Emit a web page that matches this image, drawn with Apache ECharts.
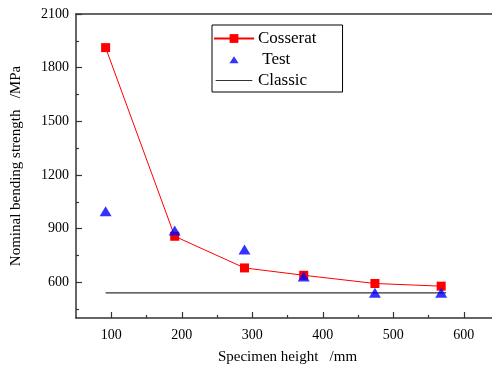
<!DOCTYPE html>
<html>
<head>
<meta charset="utf-8">
<script src="https://cdn.jsdelivr.net/npm/echarts@6/dist/echarts.min.js"></script>
<style>
html,body{margin:0;padding:0;background:#fff;overflow:hidden;}
#chart{width:492px;height:365px;}
</style>
</head>
<body>
<div id="chart"></div>
<script>
// Data
var heights = [92, 190, 289, 373, 474, 568];
var cosseratValues = [1912, 857, 680, 639, 593, 578];
var testValues = [997, 889, 783, 632, 541, 541];
var classicX = [92, 575];
var classicValue = 540;
var xTickLabels = [100, 200, 300, 400, 500, 600];
var xMinorTicks = [150, 250, 350, 450, 550];
var yTickLabels = [600, 900, 1200, 1500, 1800, 2100];
var yMinorTicks = [450, 750, 1050, 1350, 1650, 1950];

var FONT = '"Liberation Serif", "DejaVu Serif", serif';
var AX = '#333';

function pairs(xs, ys) { return xs.map(function (x, i) { return [x, ys[i]]; }); }
function plain(v) { return String(v); }

var TRI_ICON = 'path://M0,0 L0.01,0 L0,0.01 Z M15,10 L20,2.5 L25,10 Z M40,12 L39.99,12 L40,11.99 Z';
var LINE_ICON = 'path://M0,0 L0.01,0 L0,0.01 Z M0,5.5 L40,5.5 L40,6.6 L0,6.6 Z M40,12 L39.99,12 L40,11.99 Z';

var GRID = {left: 76, top: 14, width: 423, height: 304, outerBoundsMode: 'none', containLabel: false, show: false};

var chart = echarts.init(document.getElementById('chart'), null, {renderer: 'canvas'});
chart.setOption({
  animation: false,
  backgroundColor: '#fff',
  textStyle: {fontFamily: FONT},
  grid: [Object.assign({}, GRID), Object.assign({}, GRID)],
  legend: {
    orient: 'vertical', left: 212, top: 25,
    padding: [5, 26, 3, 1], itemGap: 4, itemWidth: 40, itemHeight: 11,
    borderColor: '#000', borderWidth: 1,
    textStyle: {fontFamily: FONT, fontSize: 17, color: '#000', padding: [0, 0, 0, -1]},
    data: [
      {name: 'Cosserat'},
      {name: 'Test', icon: TRI_ICON},
      {name: 'Classic', icon: LINE_ICON}
    ],
    formatter: function (n) { return n === 'Test' ? ' ' + n : n; }
  },
  xAxis: [{
    type: 'value', min: 50, max: 650, gridIndex: 0, position: 'bottom',
    name: 'Specimen height   /mm', nameLocation: 'middle', nameGap: 32,
    nameTextStyle: {fontFamily: FONT, fontSize: 15, color: '#000'},
    axisLine: {show: true, lineStyle: {color: AX, width: 1.5}},
    axisTick: {show: true, inside: true, length: 6, customValues: xTickLabels, lineStyle: {color: AX, width: 1.2}},
    axisLabel: {customValues: xTickLabels, formatter: plain, fontFamily: FONT, fontSize: 14, color: '#000', margin: 10},
    splitLine: {show: false}
  }, {
    type: 'value', min: 50, max: 650, gridIndex: 1, position: 'bottom',
    axisLine: {show: false},
    axisTick: {show: true, inside: true, length: 3, customValues: xMinorTicks, lineStyle: {color: AX, width: 1.2}},
    axisLabel: {show: false},
    splitLine: {show: false}
  }, {
    type: 'value', min: 50, max: 650, gridIndex: 1, position: 'top',
    axisLine: {show: true, lineStyle: {color: AX, width: 1.5}},
    axisTick: {show: false},
    axisLabel: {show: false},
    splitLine: {show: false}
  }],
  yAxis: [{
    type: 'value', min: 400, max: 2100, gridIndex: 0, position: 'left',
    name: 'Nominal bending strength   /MPa', nameLocation: 'middle', nameGap: 52,
    nameTextStyle: {fontFamily: FONT, fontSize: 15, color: '#000'},
    axisLine: {show: true, lineStyle: {color: AX, width: 1.5}},
    axisTick: {show: true, inside: true, length: 6, customValues: yTickLabels, lineStyle: {color: AX, width: 1.2}},
    axisLabel: {customValues: yTickLabels, formatter: plain, fontFamily: FONT, fontSize: 14, color: '#000', margin: 7},
    splitLine: {show: false}
  }, {
    type: 'value', min: 400, max: 2100, gridIndex: 1, position: 'left',
    axisLine: {show: false},
    axisTick: {show: true, inside: true, length: 3, customValues: yMinorTicks, lineStyle: {color: AX, width: 1.2}},
    axisLabel: {show: false},
    splitLine: {show: false}
  }],
  series: [{
    name: 'Cosserat', type: 'line', data: pairs(heights, cosseratValues),
    xAxisIndex: 0, yAxisIndex: 0,
    symbol: 'rect', symbolSize: 9,
    lineStyle: {color: '#ff0000', width: 1},
    itemStyle: {color: '#ff0000'},
    z: 3
  }, {
    name: 'Test', type: 'scatter', data: pairs(heights, testValues),
    xAxisIndex: 0, yAxisIndex: 0,
    symbol: 'triangle', symbolSize: [12, 10],
    itemStyle: {color: '#0000ff'},
    z: 4
  }, {
    name: 'Classic', type: 'line', data: classicX.map(function (x) { return [x, classicValue]; }),
    xAxisIndex: 0, yAxisIndex: 0,
    symbol: 'none', showSymbol: false,
    lineStyle: {color: '#333', width: 1.3},
    itemStyle: {color: '#333'},
    z: 2
  }]
});
</script>
</body>
</html>
